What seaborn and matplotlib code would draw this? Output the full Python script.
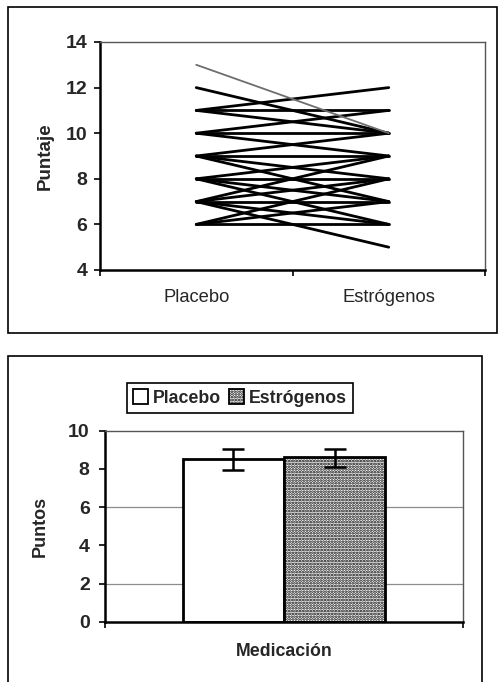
import matplotlib
matplotlib.use("Agg")
import matplotlib.pyplot as plt
from matplotlib.patches import Rectangle, Patch
import seaborn as sns
import pandas as pd

# ---------------- data ----------------
grupos = ["Placebo", "Estrógenos"]
# paired scores per subject (placebo, estrógenos)
placebo =    [13, 12, 11, 11, 11, 10, 10, 10, 9, 9, 9, 8, 8, 9, 7, 8, 7, 7, 7, 6, 6, 7, 6, 8]
estrogenos = [10, 10, 12, 11, 10, 11, 10, 9, 10, 9, 8, 9, 8, 7, 9, 7, 8, 7, 6, 7, 6, 5, 8, 6]
y_ticks_top = [4, 6, 8, 10, 12, 14]

medias = [8.52, 8.60]
err_inf = [0.58, 0.48]
err_sup = [0.54, 0.46]
y_ticks_bot = [0, 2, 4, 6, 8, 10]
categoria = "Medicación"

# ---------------- style ----------------
sns.set_theme(style="white")
plt.rcParams["font.family"] = ["Liberation Sans", "DejaVu Sans"]
plt.rcParams["hatch.linewidth"] = 1.3

W, H = 498, 682
fig = plt.figure(figsize=(W / 100, H / 100), dpi=100)

def fx(px):
    return px / W

def fy(py):
    return 1 - py / H

# ---------------- top chart ----------------
ax1 = fig.add_axes([fx(100), fy(270), fx(485) - fx(100), fy(42) - fy(270)])
rows = []
for i, (p, e) in enumerate(zip(placebo, estrogenos)):
    rows.append({"sujeto": i, "grupo": grupos[0], "puntaje": p})
    rows.append({"sujeto": i, "grupo": grupos[1], "puntaje": e})
df = pd.DataFrame(rows)
df["xpos"] = df["grupo"].map({g: k for k, g in enumerate(grupos)})

sns.lineplot(data=df[df.sujeto != 0], x="xpos", y="puntaje", units="sujeto",
             estimator=None, color="black", lw=2.0, ax=ax1)
sns.lineplot(data=df[df.sujeto == 0], x="xpos", y="puntaje", units="sujeto",
             estimator=None, color="#6e6e6e", lw=1.3, ax=ax1)

ax1.set_xlim(-0.5, 1.5)
ax1.set_ylim(4, 14)
ax1.set_yticks(y_ticks_top)
ax1.set_xticks([0, 1])
ax1.set_xticklabels(grupos, fontsize=13.2)
ax1.set_xticks([-0.5, 0.5, 1.5], minor=True)
ax1.tick_params(axis="x", which="major", length=0, pad=14)
ax1.tick_params(axis="x", which="minor", length=4, width=1.2, color="black", direction="out", bottom=True)
ax1.tick_params(axis="y", which="major", length=4, width=1.2, color="black", direction="out", left=True, pad=5)
for lab in ax1.get_yticklabels():
    lab.set_fontsize(14)
    lab.set_fontweight("bold")
ax1.set_xlabel("")
ax1.set_ylabel("Puntaje", fontsize=13.5, fontweight="bold", labelpad=9)
for s in ["left", "bottom"]:
    ax1.spines[s].set_color("black")
    ax1.spines[s].set_linewidth(1.8)
for s in ["top", "right"]:
    ax1.spines[s].set_color("#555555")
    ax1.spines[s].set_linewidth(1.0)

# ---------------- bottom chart ----------------
ax2 = fig.add_axes([fx(105), fy(621.7), fx(463) - fx(105), fy(430.7) - fy(621.7)])
dfb = pd.DataFrame({"cat": [categoria] * 2, "grupo": grupos, "puntos": medias})
for yv in (2, 6):
    ax2.axhline(yv, color="#8c8c8c", lw=0.9, zorder=0)
sns.barplot(data=dfb, x="cat", y="puntos", hue="grupo", hue_order=grupos,
            palette=["white", "white"], edgecolor="black", linewidth=2.0,
            width=0.567, errorbar=None, legend=False, ax=ax2, zorder=2)

bars = []
for cont in ax2.containers:
    bars.append(cont[0])
bars[1].set_hatch("......")

xs = [b.get_x() + b.get_width() / 2 for b in bars]
ax2.errorbar(xs, medias, yerr=[err_inf, err_sup], fmt="none", ecolor="black",
             elinewidth=1.8, capsize=8, capthick=1.8, zorder=3)

ax2.set_xlim(-0.5, 0.5)
ax2.set_ylim(0, 10)
ax2.set_yticks(y_ticks_bot)
for lab in ax2.get_yticklabels():
    lab.set_fontsize(14)
    lab.set_fontweight("bold")
ax2.set_xticks([0])
ax2.set_xticklabels([categoria], fontsize=12.8, fontweight="bold")
ax2.set_xticks([-0.5, 0.5], minor=True)
ax2.tick_params(axis="x", which="major", length=0, pad=15)
ax2.tick_params(axis="x", which="minor", length=4, width=1.2, color="black", direction="out", bottom=True)
ax2.tick_params(axis="y", which="major", length=4, width=1.2, color="black", direction="out", left=True, pad=7)
ax2.set_xlabel("")
ax2.set_ylabel("Puntos", fontsize=13, fontweight="bold", labelpad=14)
for s in ["left", "bottom"]:
    ax2.spines[s].set_color("black")
    ax2.spines[s].set_linewidth(1.8)
for s in ["top", "right"]:
    ax2.spines[s].set_color("#555555")
    ax2.spines[s].set_linewidth(1.0)

handles = [Patch(facecolor="white", edgecolor="black", lw=1.3, hatch=b.get_hatch()) for b in bars]
leg = fig.legend(handles, grupos, loc="center", bbox_to_anchor=(fx(240), fy(398)),
                 ncol=2, frameon=True, fancybox=False, framealpha=1,
                 edgecolor="black", borderpad=0.35, handlelength=0.85, handleheight=0.85,
                 handletextpad=0.25, columnspacing=0.45,
                 prop={"size": 12.8, "weight": "bold"})
leg.get_frame().set_linewidth(1.2)

# ---------------- outer frames ----------------
fig.add_artist(Rectangle((fx(8), fy(333)), fx(497) - fx(8), fy(7) - fy(333),
                         transform=fig.transFigure, fill=False, ec="black", lw=1.2))
fig.add_artist(Rectangle((fx(8), fy(690)), fx(482) - fx(8), fy(356) - fy(690),
                         transform=fig.transFigure, fill=False, ec="black", lw=1.2))

fig.savefig("out.png", dpi=100, facecolor="white")
